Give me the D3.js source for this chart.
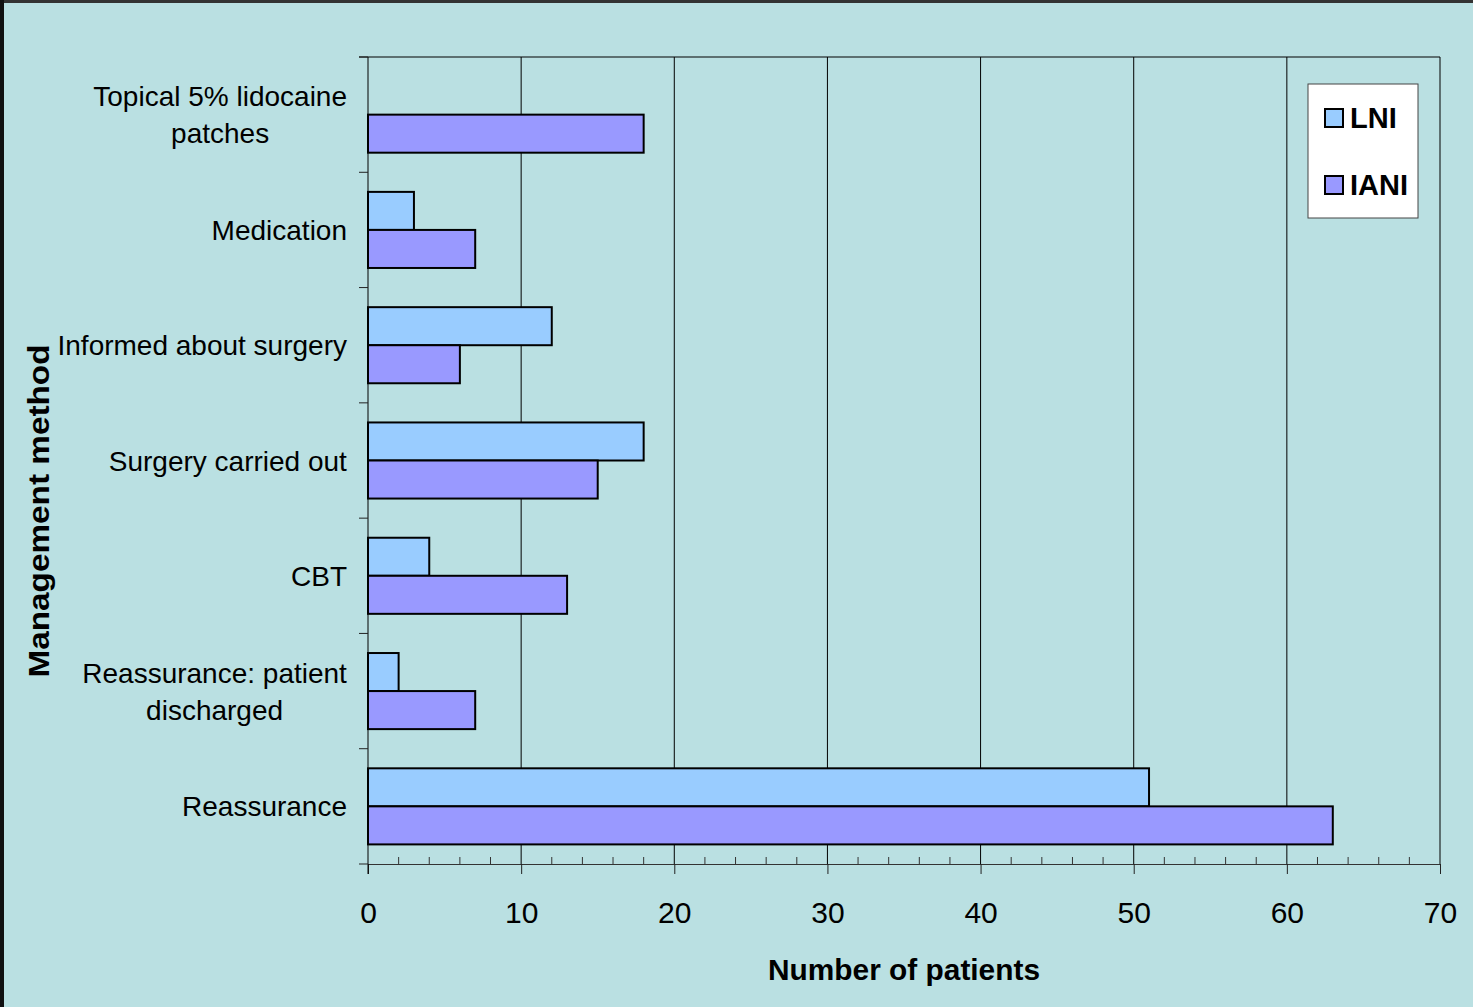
<!DOCTYPE html>
<html>
<head>
<meta charset="utf-8">
<script src="https://cdn.jsdelivr.net/npm/d3@7"></script>
<style>
  html, body { margin: 0; padding: 0; background: #bae0e2; overflow: hidden; }
  text { font-family: "Liberation Sans", Arial, sans-serif; fill: #000; }
</style>
</head>
<body>
<script>
const categories = [
  "Topical 5% lidocaine\npatches",
  "Medication",
  "Informed about surgery",
  "Surgery carried out",
  "CBT",
  "Reassurance: patient\ndischarged",
  "Reassurance"
];
const series_names = ["LNI", "IANI"];
const lni_values = [0, 3, 12, 18, 4, 2, 51];
const iani_values = [18, 7, 6, 15, 13, 7, 63];
const x_ticks = [0, 10, 20, 30, 40, 50, 60, 70];
const colors = ["#99ccff", "#9999ff"];

const _svg_width = 1473;
const _svg_height = 1007;
const _left = 368;
const _right = 1440;
const _top = 57;
const _bottom = 864;

const svg = d3.select('body').append('svg')
    .attr('width', _svg_width)
    .attr('height', _svg_height);

svg.append('rect').attr('width', _svg_width).attr('height', _svg_height).attr('fill', '#bae0e2');
// dark frame of the slide
svg.append('rect').attr('width', _svg_width).attr('height', 3).attr('fill', '#333');
svg.append('rect').attr('width', 4).attr('height', _svg_height).attr('fill', '#111');

const x = d3.scaleLinear().domain([0, 70]).range([_left, _right]);
const y = d3.scaleBand().domain(categories).range([_top, _bottom])
    .paddingInner(0.34).paddingOuter(0.17);
const y_sub = d3.scaleBand().domain(series_names).range([0, y.bandwidth()]);

// gridlines
svg.append('g').selectAll('line')
    .data(x_ticks.filter(d => d > 0))
    .join('line')
    .attr('x1', d => x(d)).attr('x2', d => x(d))
    .attr('y1', _top).attr('y2', _bottom)
    .attr('stroke', '#000').attr('stroke-width', 1);

// top border
svg.append('line').attr('x1', _left - 9).attr('x2', _right).attr('y1', _top).attr('y2', _top)
    .attr('stroke', '#000');

// bars
const data = categories.map((c, i) => ({cat: c, vals: [lni_values[i], iani_values[i]]}));
const groups = svg.append('g').selectAll('g')
    .data(data).join('g')
    .attr('transform', d => `translate(0,${y(d.cat)})`);
groups.selectAll('rect')
    .data(d => d.vals.map((v, j) => ({name: series_names[j], v: v, j: j})).filter(e => e.v > 0))
    .join('rect')
    .attr('x', x(0))
    .attr('y', e => y_sub(e.name))
    .attr('width', e => x(e.v) - x(0))
    .attr('height', y_sub.bandwidth())
    .attr('fill', e => colors[e.j])
    .attr('stroke', '#000').attr('stroke-width', 2);

// x axis with minor ticks
const x_minor = d3.range(0, 71, 2).filter(d => d % 10 !== 0);
svg.append('g').selectAll('line')
    .data(x_minor).join('line')
    .attr('x1', d => x(d)).attr('x2', d => x(d))
    .attr('y1', _bottom - 7).attr('y2', _bottom)
    .attr('stroke', '#333').attr('stroke-width', 1);

const x_axis = svg.append('g')
    .attr('transform', `translate(0,${_bottom})`)
    .call(d3.axisBottom(x).tickValues(x_ticks).tickSize(10).tickPadding(28).tickSizeOuter(0));
x_axis.select('.domain').attr('stroke', '#333');
x_axis.selectAll('.tick line').attr('stroke', '#222');
x_axis.selectAll('.tick text')
    .style('font-family', '"Liberation Sans", Arial, sans-serif')
    .style('font-size', '30px').attr('fill', '#000');

// y axis
const y_axis = svg.append('g')
    .attr('transform', `translate(${_left},0)`)
    .call(d3.axisLeft(y).tickSize(0).tickFormat(''));
y_axis.select('.domain').remove();
svg.append('line').attr('x1', _left).attr('x2', _left).attr('y1', _top).attr('y2', _bottom + 10)
    .attr('stroke', '#000');
svg.append('g').selectAll('line')
    .data(d3.range(categories.length + 1))
    .join('line')
    .attr('x1', _left - 9).attr('x2', _left)
    .attr('y1', i => _top + i * y.step()).attr('y2', i => _top + i * y.step())
    .attr('stroke', '#222');

// category labels: centred lines, block right-aligned
const label_g = svg.append('g');
categories.forEach(c => {
  const lines = c.split('\n');
  const cy = y(c) + y.bandwidth() / 2;
  const t = label_g.append('text')
      .attr('text-anchor', 'middle')
      .style('font-size', '28px');
  lines.forEach((ln, k) => {
    t.append('tspan')
        .attr('x', 0)
        .attr('y', cy + (k - (lines.length - 1) / 2) * 37)
        .attr('dy', '0.36em')
        .text(ln);
  });
  const w = t.node().getBBox().width;
  t.attr('transform', `translate(${347 - w / 2},0)`);
});

// axis titles
svg.append('text')
    .attr('x', (_left + _right) / 2).attr('y', 980)
    .attr('text-anchor', 'middle')
    .attr('textLength', 272).attr('lengthAdjust', 'spacingAndGlyphs')
    .style('font-size', '30px').style('font-weight', 'bold')
    .text('Number of patients');
svg.append('text')
    .attr('transform', 'translate(49,511) rotate(-90)')
    .attr('text-anchor', 'middle')
    .attr('textLength', 333).attr('lengthAdjust', 'spacingAndGlyphs')
    .style('font-size', '30px').style('font-weight', 'bold')
    .text('Management method');

// legend
const legend = svg.append('g');
legend.append('rect')
    .attr('x', 1308).attr('y', 84).attr('width', 110).attr('height', 134)
    .attr('fill', '#fff').attr('stroke', '#444').attr('stroke-width', 1);
series_names.forEach((s, i) => {
  const ly = 118 + i * 67;
  legend.append('rect')
      .attr('x', 1325).attr('y', ly - 9).attr('width', 18).attr('height', 18)
      .attr('fill', colors[i]).attr('stroke', '#000').attr('stroke-width', 2);
  legend.append('text')
      .attr('x', 1350).attr('y', ly).attr('dy', '0.36em')
      .style('font-size', '29px').style('font-weight', 'bold')
      .text(s);
});
</script>
</body>
</html>
